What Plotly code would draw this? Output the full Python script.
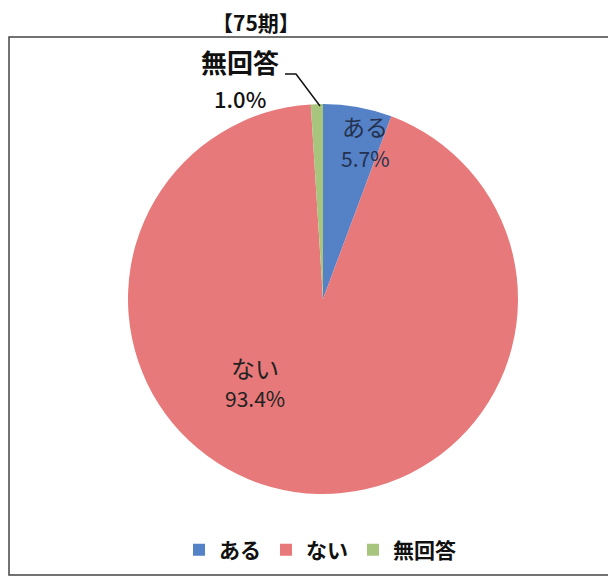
import plotly.graph_objects as go

categories = ["ある", "ない", "無回答"]
values = [5.7, 93.4, 1.0]
pct_labels = ["5.7%", "93.4%", "1.0%"]
colors = ["#5581C6", "#E8797A", "#A8C57E"]
title_text = "【75期】"

# page body has an 8px margin; figure is sized to fit the visible window
OFF = 8
W, H = 600, 568
cx, cy, r = 323, 299, 195

def px(x):
    return (x - OFF) / W

def py(y):
    return 1 - (y - OFF) / H

fig = go.Figure(go.Pie(
    labels=categories, values=values, sort=False, direction="clockwise",
    rotation=0, textinfo="none", hoverinfo="label+percent",
    marker=dict(colors=colors, line=dict(width=0)),
    domain=dict(x=[px(cx - r), px(cx + r)], y=[py(cy + r), py(cy - r)]),
))

font = "Noto Sans CJK JP, sans-serif"
anns = [
    dict(x=px(365), y=py(126), text=categories[0], font=dict(size=23, color="#24324f")),
    dict(x=px(365), y=py(158), text=pct_labels[0], font=dict(size=21, color="#24324f")),
    dict(x=px(255), y=py(367), text=categories[1], font=dict(size=24, color="#222")),
    dict(x=px(255), y=py(398), text=pct_labels[1], font=dict(size=21, color="#222")),
    dict(x=px(240), y=py(62), text="<b>" + categories[2] + "</b>", font=dict(size=26, color="#111")),
    dict(x=px(240), y=py(98), text=pct_labels[2], font=dict(size=22, color="#111", weight=500)),
    dict(x=px(256), y=py(22), text="<b>" + title_text + "</b>", font=dict(size=21, color="#111")),
]
for a in anns:
    a.update(xref="paper", yref="paper", showarrow=False, xanchor="center", yanchor="middle")
    a["font"]["family"] = font

top, left, bottom = py(37), px(9), py(575)
shapes = [
    dict(type="path", xref="paper", yref="paper",
         path=f"M 1.05 {top} L {left} {top} L {left} {bottom} L 1.05 {bottom}",
         line=dict(color="#444", width=1.5), layer="below"),
    dict(type="path", xref="paper", yref="paper",
         path=f"M {px(285)} {py(74)} L {px(296)} {py(74)} L {px(320)} {py(106)}",
         line=dict(color="#111", width=1.5)),
]

fig.update_layout(
    width=W, height=H, margin=dict(l=0, r=0, t=0, b=0),
    paper_bgcolor="white", plot_bgcolor="white",
    annotations=anns, shapes=shapes,
    showlegend=True,
    legend=dict(orientation="h", x=px(320), xanchor="center", y=py(550), yanchor="middle",
                font=dict(family=font, size=21, color="#111", weight="bold"), itemwidth=30,
                traceorder="normal"),
    font=dict(family=font),
)
fig.write_html("out.html")
